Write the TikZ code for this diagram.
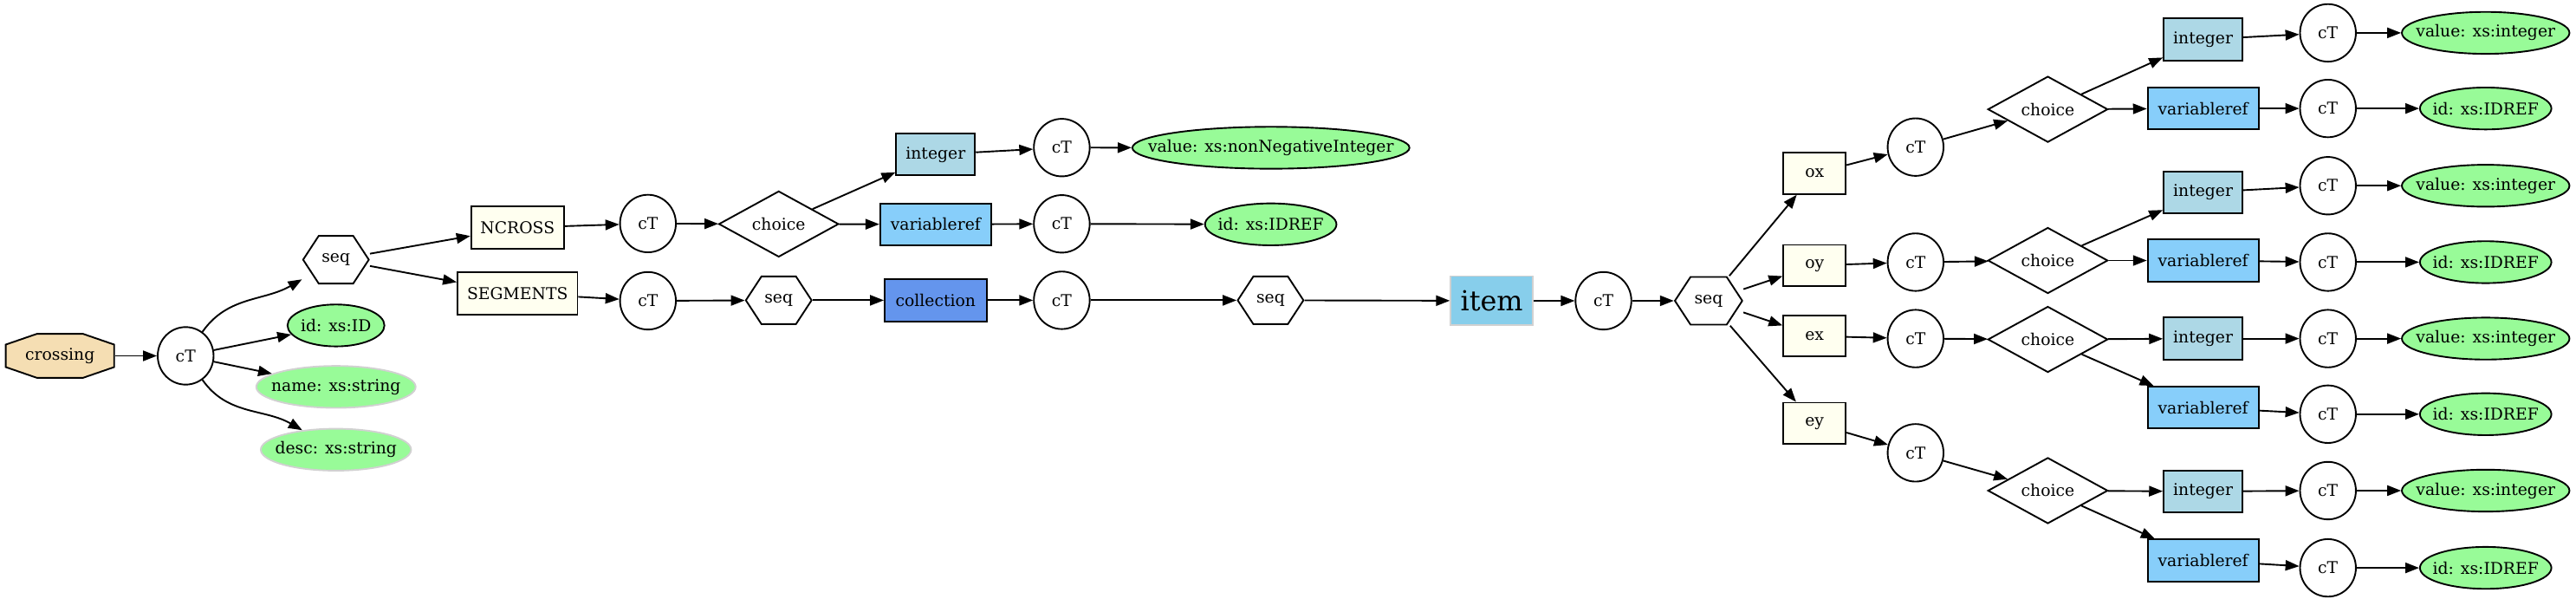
\documentclass[tikz,border=0pt]{standalone}
\usepackage{fontspec}
\setmainfont{DejaVu Serif}
\usepackage{tikz}
\usetikzlibrary{arrows.meta,shapes.geometric}
\usepackage{xcolor}
\definecolor{wheatFill}{HTML}{F5DEB3}
\definecolor{paleGreen}{HTML}{98FB98}
\definecolor{ivoryFill}{HTML}{FFFFF0}
\definecolor{lightBlue}{HTML}{ADD8E6}
\definecolor{lightSkyBlue}{HTML}{87CEFA}
\definecolor{cornflower}{HTML}{6495ED}
\definecolor{skyBlue}{HTML}{87CEEB}

\begin{document}
\begin{tikzpicture}[
        x=1pt, y=1pt,
        font=\fontsize{9.9}{12}\selectfont,
        rootOct/.style={rectangle, minimum width=67pt, minimum height=27.7pt, inner sep=0pt, path picture={
            \draw[line width=1pt, fill=wheatFill] ([xshift=0.5pt, yshift=-7pt]path picture bounding box.north west) -- ([xshift=19.4pt, yshift=-0.5pt]path picture bounding box.north west) -- ([xshift=-19.4pt, yshift=-0.5pt]path picture bounding box.north east) -- ([xshift=-0.5pt, yshift=-7pt]path picture bounding box.north east) -- ([xshift=-0.5pt, yshift=7pt]path picture bounding box.south east) -- ([xshift=-19.4pt, yshift=0.5pt]path picture bounding box.south east) -- ([xshift=19.4pt, yshift=0.5pt]path picture bounding box.south west) -- ([xshift=0.5pt, yshift=7pt]path picture bounding box.south west) -- cycle;}},
        seqNode/.style={rectangle, minimum width=41pt, minimum height=30pt, inner sep=0pt, path picture={
            \draw[line width=1pt, fill=white] ([xshift=0.5pt]path picture bounding box.west) -- ([xshift=10pt, yshift=-0.5pt]path picture bounding box.north west) -- ([xshift=-10pt, yshift=-0.5pt]path picture bounding box.north east) -- ([xshift=-0.5pt]path picture bounding box.east) -- ([xshift=-10pt, yshift=0.5pt]path picture bounding box.south east) -- ([xshift=10pt, yshift=0.5pt]path picture bounding box.south west) -- cycle;}},
        typeNode/.style={ellipse, draw, fill=white, line width=1pt, minimum width=34pt, minimum height=35pt, inner sep=0pt},
        choiceNode/.style={diamond, draw, fill=white, line width=1pt, minimum width=73pt, minimum height=35pt, inner sep=0pt},
        elemBox/.style={rectangle, draw, fill=ivoryFill, line width=1pt, minimum height=25.5pt, inner sep=2pt},
        intBox/.style={elemBox, fill=lightBlue, minimum width=48pt},
        refBox/.style={elemBox, fill=lightSkyBlue, minimum width=67.5pt},
        attrOval/.style={ellipse, draw, fill=paleGreen, line width=1pt, minimum height=25.5pt, inner sep=0pt, execute at begin node={\hbox to 0pt\bgroup\hss}, execute at end node={\hss\egroup}},
        optOval/.style={attrOval, draw=black!18},
        valueOval/.style={attrOval, minimum width=102pt},
        idrefOval/.style={attrOval, minimum width=80pt},
        arrowStyle/.style={-{Triangle[length=8.4pt, width=6.3pt]}, line width=1pt}
    ]
        \useasboundingbox (0, 0) rectangle (1568, -364);

        % Radice: crossing
        \node[rootOct] (crossingNode) at (36.5, -216.5) {crossing};
        \node[typeNode] (crossingType) at (113, -216.5) {cT};
        \node[seqNode] (crossingSeq) at (204.5, -158) {seq};
        \node[attrOval, minimum width=59pt] (idAttr) at (204.5, -198) {id: xs:ID};
        \node[optOval, minimum width=97pt] (nameAttr) at (204.5, -235.4) {name: xs:string};
        \node[optOval, minimum width=91.5pt] (descAttr) at (204.5, -273.6) {desc: xs:string};

        % Ramo NCROSS
        \node[elemBox, minimum width=56.5pt] (ncrossBox) at (315, -138.5) {NCROSS};
        \node[typeNode] (ncrossType) at (394.4, -136) {cT};
        \node[choiceNode] (ncrossChoice) at (474, -136.3) {choice};
        \node[intBox] (ncrossInt) at (569.5, -94) {integer};
        \node[refBox] (ncrossVar) at (569.5, -136.5) {variableref};
        \node[typeNode] (ncrossIntType) at (646.3, -89.8) {cT};
        \node[typeNode] (ncrossVarType) at (646.3, -136.2) {cT};
        \node[attrOval, minimum width=168.7pt] (ncrossValue) at (773.6, -89.9) {value: xs:nonNegativeInteger};
        \node[idrefOval] (ncrossRef) at (773.5, -136.5) {id: xs:IDREF};

        % Ramo SEGMENTS
        \node[elemBox, minimum width=73pt] (segmentsBox) at (315, -178.5) {SEGMENTS};
        \node[typeNode] (segmentsType) at (394.4, -183) {cT};
        \node[seqNode] (segmentsSeq) at (474, -182.7) {seq};
        \node[elemBox, fill=cornflower, minimum width=62pt] (collectionBox) at (569.5, -182.7) {collection};
        \node[typeNode] (collectionType) at (646.3, -182.7) {cT};
        \node[seqNode] (collectionSeq) at (773.4, -182.7) {seq};

        % item
        \node[rectangle, draw=black!18, fill=skyBlue, line width=1pt, font=\fontsize{16.8}{20}\selectfont, minimum width=50pt, minimum height=30pt, inner sep=1pt] (itemBox) at (908, -183) {item};
        \node[typeNode] (itemType) at (976, -183) {cT};
        \node[seqNode, minimum width=42pt] (itemSeq) at (1040, -183) {seq};

        % Ramo ox
        \node[elemBox, minimum width=38pt, minimum height=25pt] (oxBox) at (1104.5, -105.5) {ox};
        \node[typeNode] (oxType) at (1166, -89.5) {cT};
        \node[choiceNode] (oxChoice) at (1246.5, -66.5) {choice};
        \node[intBox] (oxInt) at (1341, -24) {integer};
        \node[refBox] (oxVar) at (1341, -66) {variableref};
        \node[typeNode] (oxIntType) at (1417, -20) {cT};
        \node[typeNode] (oxVarType) at (1417, -66) {cT};
        \node[valueOval] (oxValue) at (1513, -20) {value: xs:integer};
        \node[idrefOval] (oxRef) at (1513, -66) {id: xs:IDREF};

        % Ramo oy
        \node[elemBox, minimum width=38pt, minimum height=25pt] (oyBox) at (1104.5, -161.5) {oy};
        \node[typeNode] (oyType) at (1166, -159.5) {cT};
        \node[choiceNode] (oyChoice) at (1246.5, -158.5) {choice};
        \node[intBox] (oyInt) at (1341, -117) {integer};
        \node[refBox] (oyVar) at (1341, -158.5) {variableref};
        \node[typeNode] (oyIntType) at (1417, -113) {cT};
        \node[typeNode] (oyVarType) at (1417, -159.5) {cT};
        \node[valueOval] (oyValue) at (1513, -113) {value: xs:integer};
        \node[idrefOval] (oyRef) at (1513, -159.5) {id: xs:IDREF};

        % Ramo ex
        \node[elemBox, minimum width=38pt, minimum height=25pt] (exBox) at (1104.5, -204.5) {ex};
        \node[typeNode] (exType) at (1166, -206) {cT};
        \node[choiceNode] (exChoice) at (1246.5, -206.5) {choice};
        \node[intBox] (exInt) at (1341, -206) {integer};
        \node[refBox] (exVar) at (1341, -248) {variableref};
        \node[typeNode] (exIntType) at (1417, -206) {cT};
        \node[typeNode] (exVarType) at (1417, -252) {cT};
        \node[valueOval] (exValue) at (1513, -206) {value: xs:integer};
        \node[idrefOval] (exRef) at (1513, -252) {id: xs:IDREF};

        % Ramo ey
        \node[elemBox, minimum width=38pt, minimum height=25pt] (eyBox) at (1104.5, -257.5) {ey};
        \node[typeNode] (eyType) at (1166, -275.5) {cT};
        \node[choiceNode] (eyChoice) at (1246.5, -298.5) {choice};
        \node[intBox] (eyInt) at (1341, -299) {integer};
        \node[refBox] (eyVar) at (1341, -341) {variableref};
        \node[typeNode] (eyIntType) at (1417, -298.5) {cT};
        \node[typeNode] (eyVarType) at (1417, -345.5) {cT};
        \node[valueOval] (eyValue) at (1513, -298.5) {value: xs:integer};
        \node[idrefOval] (eyRef) at (1513, -345.5) {id: xs:IDREF};

        % Collegamenti
        \draw[arrowStyle] (crossingNode) -- (crossingType);
        \draw[arrowStyle] (crossingType) to[out=55, in=-150] (crossingSeq);
        \draw[arrowStyle] (crossingType) -- (idAttr);
        \draw[arrowStyle] (crossingType) -- (nameAttr);
        \draw[arrowStyle] (crossingType) to[out=-55, in=150] (descAttr);
        \draw[arrowStyle] (crossingSeq) edge (ncrossBox) (crossingSeq) edge (segmentsBox);
        \draw[arrowStyle] (ncrossBox) edge (ncrossType) (ncrossType) edge (ncrossChoice) (ncrossChoice) edge (ncrossInt) (ncrossChoice) edge (ncrossVar);
        \draw[arrowStyle] (ncrossInt) edge (ncrossIntType) (ncrossIntType) edge (ncrossValue) (ncrossVar) edge (ncrossVarType) (ncrossVarType) edge (ncrossRef);
        \draw[arrowStyle] (segmentsBox) edge (segmentsType) (segmentsType) edge (segmentsSeq) (segmentsSeq) edge (collectionBox) (collectionBox) edge (collectionType);
        \draw[arrowStyle] (collectionType) edge (collectionSeq) (collectionSeq) edge (itemBox) (itemBox) edge (itemType) (itemType) edge (itemSeq);
        \draw[arrowStyle] (itemSeq) edge (oxBox) (itemSeq) edge (oyBox) (itemSeq) edge (exBox) (itemSeq) edge (eyBox);
        \draw[arrowStyle] (oxBox) edge (oxType) (oxType) edge (oxChoice) (oxChoice) edge (oxInt) (oxChoice) edge (oxVar);
        \draw[arrowStyle] (oxInt) edge (oxIntType) (oxIntType) edge (oxValue) (oxVar) edge (oxVarType) (oxVarType) edge (oxRef);
        \draw[arrowStyle] (oyBox) edge (oyType) (oyType) edge (oyChoice) (oyChoice) edge (oyInt) (oyChoice) edge (oyVar);
        \draw[arrowStyle] (oyInt) edge (oyIntType) (oyIntType) edge (oyValue) (oyVar) edge (oyVarType) (oyVarType) edge (oyRef);
        \draw[arrowStyle] (exBox) edge (exType) (exType) edge (exChoice) (exChoice) edge (exInt) (exChoice) edge (exVar);
        \draw[arrowStyle] (exInt) edge (exIntType) (exIntType) edge (exValue) (exVar) edge (exVarType) (exVarType) edge (exRef);
        \draw[arrowStyle] (eyBox) edge (eyType) (eyType) edge (eyChoice) (eyChoice) edge (eyInt) (eyChoice) edge (eyVar);
        \draw[arrowStyle] (eyInt) edge (eyIntType) (eyIntType) edge (eyValue) (eyVar) edge (eyVarType) (eyVarType) edge (eyRef);
    \end{tikzpicture}
\end{document}
